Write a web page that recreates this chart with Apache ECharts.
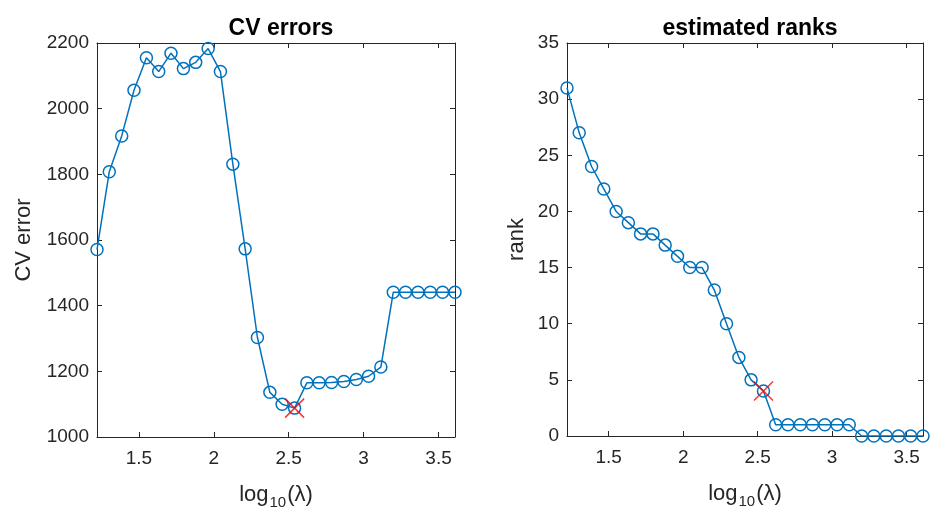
<!DOCTYPE html>
<html>
<head>
<meta charset="utf-8">
<script src="https://cdn.jsdelivr.net/npm/echarts@6/dist/echarts.min.js"></script>
<style>
  html, body { margin: 0; padding: 0; background: #fff; }
  #chart { width: 949px; height: 526px; }
</style>
</head>
<body>
<div id="chart"></div>
<script>
// log10(lambda) values, shared by both panels
const logLambda = [
  1.220, 1.302, 1.385, 1.467, 1.550, 1.632, 1.714, 1.797, 1.879, 1.962,
  2.044, 2.127, 2.209, 2.291, 2.374, 2.456, 2.539, 2.621, 2.703, 2.786,
  2.868, 2.951, 3.033, 3.115, 3.198, 3.280, 3.363, 3.445, 3.527, 3.610
];
const cvErrors = [
  1571, 1808, 1917, 2056, 2155, 2113, 2169, 2122, 2141, 2183,
  2113, 1831, 1573, 1303, 1136, 1100, 1088, 1165, 1165, 1166,
  1169, 1175, 1185, 1213, 1441, 1441, 1441, 1441, 1441, 1441
];
const ranks = [
  31, 27, 24, 22, 20, 19, 18, 18, 17, 16,
  15, 15, 13, 10, 7, 5, 4, 1, 1, 1,
  1, 1, 1, 1, 0, 0, 0, 0, 0, 0
];
const bestIndex = 16;
const xTicks = [1.5, 2, 2.5, 3, 3.5];
const titles = ["CV errors", "estimated ranks"];
const yNames = ["CV error", "rank"];

const FONT = "'Liberation Sans', Arial, Helvetica, sans-serif";
const AXIS_COLOR = "#262626";
const LINE_COLOR = "#0072BD";

const chart = echarts.init(document.getElementById("chart"));

const xLabelRich = {
  base: { fontSize: 22, color: AXIS_COLOR, fontFamily: FONT },
  sub: { fontSize: 15, color: AXIS_COLOR, fontFamily: FONT, padding: [16, 1, 0, 1] }
};

const makeX = (gridIndex, top) => ({
  type: "value",
  gridIndex,
  position: top ? "top" : "bottom",
  min: logLambda[0],
  max: logLambda[logLambda.length - 1],
  axisLine: { show: true, onZero: false, lineStyle: { color: AXIS_COLOR, width: 1 } },
  axisTick: { show: true, inside: true, length: 5, customValues: xTicks, lineStyle: { color: AXIS_COLOR } },
  axisLabel: {
    show: !top,
    customValues: xTicks,
    color: AXIS_COLOR,
    fontSize: 19,
    fontFamily: FONT,
    margin: 12
  },
  splitLine: { show: false },
  name: top ? "" : "{base|log}{sub|10}{base|(λ)}",
  nameLocation: "middle",
  nameGap: 42,
  nameTextStyle: { rich: xLabelRich }
});

const makeY = (gridIndex, right, min, max, interval, name, nameGap) => ({
  type: "value",
  gridIndex,
  position: right ? "right" : "left",
  min,
  max,
  interval,
  axisLine: { show: true, onZero: false, lineStyle: { color: AXIS_COLOR, width: 1 } },
  axisTick: { show: true, inside: true, length: 5, lineStyle: { color: AXIS_COLOR } },
  axisLabel: {
    show: !right,
    formatter: (v) => String(v),
    color: AXIS_COLOR,
    fontSize: 19,
    fontFamily: FONT,
    margin: 8
  },
  splitLine: { show: false },
  name: right ? "" : name,
  nameLocation: "middle",
  nameGap,
  nameTextStyle: { color: AXIS_COLOR, fontSize: 22, fontFamily: FONT }
});

const lineSeries = (xAxisIndex, yAxisIndex, values) => ({
  type: "line",
  xAxisIndex,
  yAxisIndex,
  data: logLambda.map((x, i) => [x, values[i]]),
  symbol: "circle",
  symbolSize: 12,
  showSymbol: true,
  lineStyle: { color: LINE_COLOR, width: 1.5 },
  itemStyle: { color: "rgba(0,0,0,0)", borderColor: LINE_COLOR, borderWidth: 1.5 },
  emphasis: { disabled: true },
  z: 2
});

const bestSeries = (xAxisIndex, yAxisIndex, values) => ({
  type: "scatter",
  xAxisIndex,
  yAxisIndex,
  data: [[logLambda[bestIndex], values[bestIndex]]],
  symbol: "path://M0,0L10,10M10,0L0,10",
  symbolSize: 19,
  itemStyle: { color: "none", borderColor: "#FF0000", borderWidth: 1.5 },
  emphasis: { disabled: true },
  z: 3
});

const titleStyle = { fontSize: 23, fontWeight: "bold", color: "#000", fontFamily: FONT };

chart.setOption({
  animation: false,
  backgroundColor: "#fff",
  title: [
    { text: titles[0], left: 276, top: 12, textAlign: "center", textStyle: titleStyle },
    { text: titles[1], left: 745, top: 12, textAlign: "center", textStyle: titleStyle }
  ],
  grid: [
    { left: 97, right: 494, top: 43, bottom: 89 },
    { left: 567, right: 26, top: 43, bottom: 90 }
  ],
  xAxis: [makeX(0, false), makeX(0, true), makeX(1, false), makeX(1, true)],
  yAxis: [
    makeY(0, false, 1000, 2200, 200, yNames[0], 62),
    makeY(0, true, 1000, 2200, 200, "", 0),
    makeY(1, false, 0, 35, 5, yNames[1], 39),
    makeY(1, true, 0, 35, 5, "", 0)
  ],
  series: [
    lineSeries(0, 0, cvErrors),
    bestSeries(0, 0, cvErrors),
    lineSeries(2, 2, ranks),
    bestSeries(2, 2, ranks)
  ]
});
</script>
</body>
</html>
